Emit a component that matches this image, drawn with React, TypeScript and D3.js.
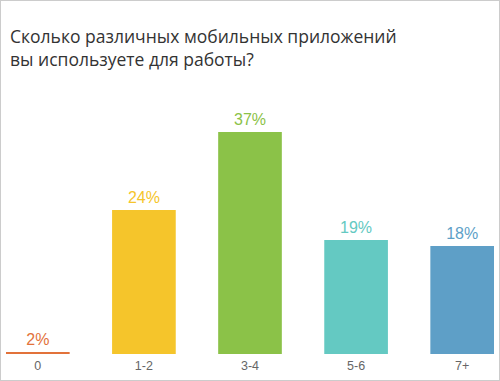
import React from "react";
import * as d3 from "d3";

const titleLines = ["Сколько различных мобильных приложений", "вы используете для работы?"];
const categories = ["0", "1-2", "3-4", "5-6", "7+"];
const values = [2, 24, 37, 19, 18];
const colors = ["#E2723A", "#F5C52B", "#8BC248", "#64C9C2", "#5E9FC7"];
// the "0" category is shown only as a flat marker line in the original
const flatCategories = ["0"];

const W = 500;
const H = 381;

export default function App() {
  const baseline = 354;
  const x = d3.scaleBand<string>().domain(categories).range([6, 494]).paddingInner(0.4).paddingOuter(0);
  const y = d3.scaleLinear().domain([0, 37]).range([baseline, 132]);

  return (
    <svg width={W} height={H} style={{ position: "absolute", left: 0, top: 0, background: "#fff" }}>
      <rect x={0.5} y={0.5} width={W - 1} height={H - 1} fill="#fff" stroke="#cccccc" />
      {titleLines.map((t, i) => (
        <text key={i} x={10} y={43 + i * 22.5} fontFamily="'Open Sans', 'Noto Sans', sans-serif" fontSize={17.5} fill="#333333">
          {t}
        </text>
      ))}
      {categories.map((c, i) => {
        const flat = flatCategories.includes(c);
        const top = flat ? baseline - 2 : y(values[i]);
        const bx = x(c) as number;
        const bw = x.bandwidth();
        return (
          <g key={c}>
            <rect x={bx} y={top} width={bw} height={baseline - top} fill={colors[i]} />
            <text x={bx + bw / 2} y={top - 7} textAnchor="middle" fontFamily="'Liberation Sans', Arial, sans-serif" fontSize={16} fill={colors[i]}>
              {values[i]}%
            </text>
            <text x={bx + bw / 2} y={370} textAnchor="middle" fontFamily="'Liberation Sans', Arial, sans-serif" fontSize={12.5} fill="#666666">
              {c}
            </text>
          </g>
        );
      })}
    </svg>
  );
}
